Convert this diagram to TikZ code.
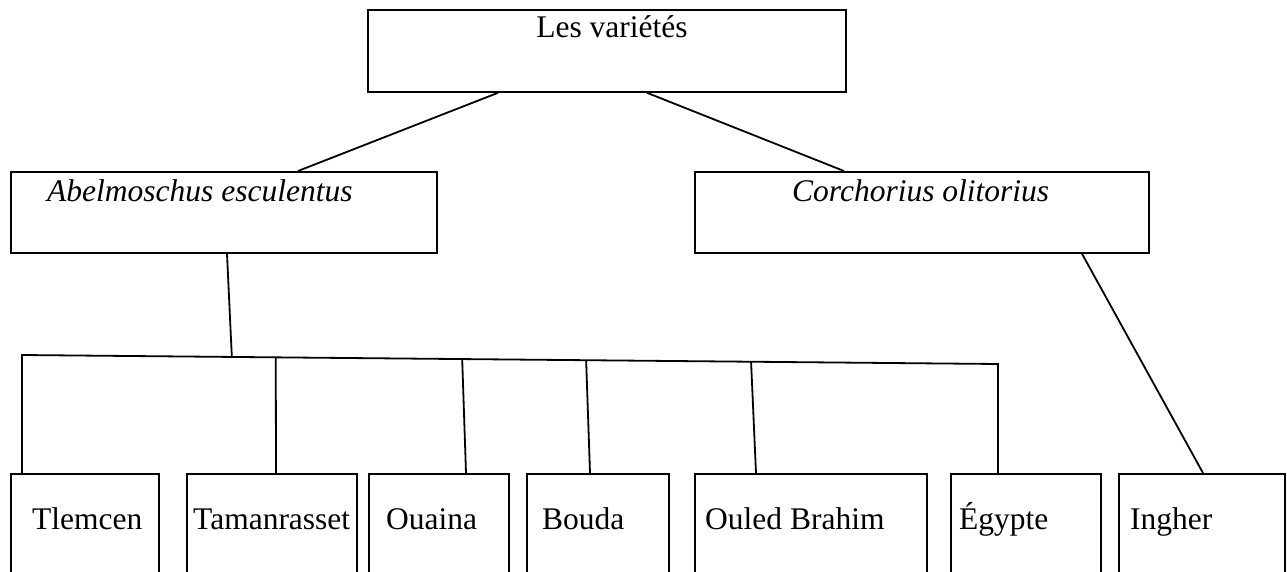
\documentclass[tikz,border=0pt]{standalone}
\usepackage{fontspec}
\setmainfont{Liberation Serif}
\usetikzlibrary{calc}
\tikzset{
  varbox/.style={draw,line width=1.8pt,rectangle,inner sep=0pt,anchor=north west},
  vartxt/.style={inner sep=0pt,anchor=base west,font=\fontsize{31.5}{38}\selectfont},
  link/.style={line width=1.8pt}
}
\begin{document}
\begin{tikzpicture}[x=1pt,y=-1pt]
  \useasboundingbox (0,0) rectangle (1287,571);
  \clip (0,0) rectangle (1287,571);
  \node [varbox,minimum width=478pt,minimum height=82pt] (root) at (367,9) {};
  \node [vartxt,anchor=base] (rootlbl) at (612,37) {Les variétés};
  \node [varbox,minimum width=426pt,minimum height=81pt] (abel) at (10,171) {};
  \node [vartxt] (abellbl) at (47,201) {\itshape Abelmoschus esculentus};
  \node [varbox,minimum width=454pt,minimum height=81pt] (corch) at (694,171) {};
  \node [vartxt] (corchlbl) at (792,201) {\itshape Corchorius olitorius};
  \node [varbox,minimum width=148pt,minimum height=140pt] (tlem) at (10,473) {};
  \node [varbox,minimum width=170pt,minimum height=140pt] (taman) at (186,473) {};
  \node [varbox,minimum width=140pt,minimum height=140pt] (ouaina) at (368,473) {};
  \node [varbox,minimum width=142pt,minimum height=140pt] (bouda) at (526,473) {};
  \node [varbox,minimum width=232pt,minimum height=140pt] (ouled) at (694,473) {};
  \node [varbox,minimum width=150pt,minimum height=140pt] (egypte) at (950,473) {};
  \node [varbox,minimum width=166pt,minimum height=140pt] (ingher) at (1118,473) {};
  \node [vartxt] (tlemlbl) at (32,529) {Tlemcen};
  \node [vartxt] (tamanlbl) at (193,529) {Tamanrasset};
  \node [vartxt] (ouainalbl) at (386,529) {Ouaina};
  \node [vartxt] (boudalbl) at (542,529) {Bouda};
  \node [vartxt] (ouledlbl) at (705,529) {Ouled Brahim};
  \node [vartxt] (egyptelbl) at (959,529) {Égypte};
  \node [vartxt] (ingherlbl) at (1130,529) {Ingher};
  \coordinate (busL) at (22,355);
  \coordinate (busR) at (998,364);
  \draw [link] ([xshift=131pt]root.south west) -- ([xshift=288pt]abel.north west);
  \draw [link] ([xshift=280pt]root.south west) -- ([xshift=150pt]corch.north west);
  \draw [link] ([xshift=217pt]abel.south west) -- ($(busL)!0.215!(busR)$);
  \draw [link] ([xshift=388pt]corch.south west) -- ([xshift=85pt]ingher.north west);
  \draw [link] ([xshift=12pt]tlem.north west) -- (busL) -- (busR) -- ([xshift=48pt]egypte.north west);
  \draw [link] ($(busL)!0.260!(busR)$) -- ([xshift=90pt]taman.north west);
  \draw [link] ($(busL)!0.451!(busR)$) -- ([xshift=98pt]ouaina.north west);
  \draw [link] ($(busL)!0.578!(busR)$) -- ([xshift=64pt]bouda.north west);
  \draw [link] ($(busL)!0.747!(busR)$) -- ([xshift=62pt]ouled.north west);
\end{tikzpicture}
\end{document}
